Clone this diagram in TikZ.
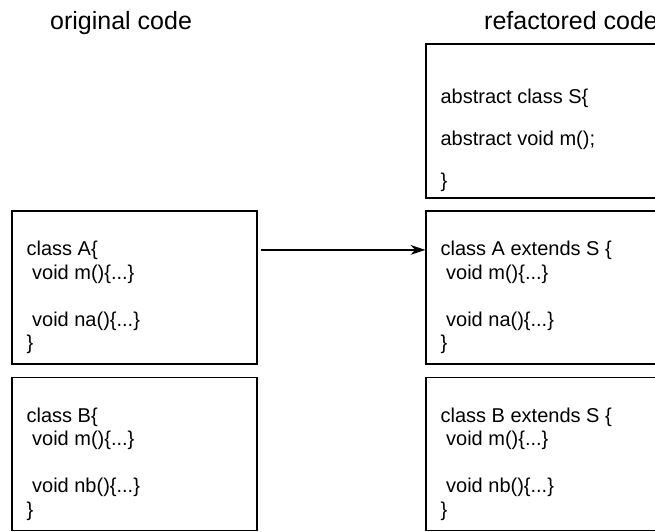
\documentclass[tikz,border=0pt]{standalone}
\usepackage{fontspec}
\setmainfont{Liberation Sans}
\usetikzlibrary{arrows.meta,calc}

\begin{document}
\begin{tikzpicture}[x=1pt,y=-1pt,
    codebox/.style={rectangle,draw,line width=1.2pt,minimum width=245pt,minimum height=153pt,inner sep=0pt},
    codetext/.style={anchor=north west,inner sep=0pt,align=left,font=\fontsize{20}{23.5}\selectfont},
    heading/.style={anchor=base west,inner sep=0pt,font=\fontsize{25}{30}\selectfont}]
    \useasboundingbox (0,0) rectangle (655,531);
    \clip (0,0) rectangle (655,531);
    \node[heading] (origtitle) at (50,29) {original code};
    \node[heading] (reftitle) at (484,29) {refactored code};
    % original classes
    \node[codebox] (boxA) at (134.5,287.5) {};
    \node[codebox] (boxB) at (134.5,454) {};
    % refactored classes
    \node[codebox,minimum height=154pt] (boxS) at (548.5,121) {};
    \node[codebox] (boxAr) at (548.5,287.5) {};
    \node[codebox] (boxBr) at (548.5,454) {};
    % class bodies
    \node[codetext] (textA) at ($(boxA.north west)+(15,30.5)$) {class A\{\\\ void m()\{...\}\\[23.5pt]\ void na()\{...\}\\\}};
    \node[codetext] (textB) at ($(boxB.north west)+(15,30.5)$) {class B\{\\\ void m()\{...\}\\[23.5pt]\ void nb()\{...\}\\\}};
    \node[codetext] (textS) at ($(boxS.north west)+(15,45)$) {abstract class S\{\\[18.5pt]abstract void m();\\[18.5pt]\}};
    \node[codetext] (textAr) at ($(boxAr.north west)+(15,30.5)$) {class A extends S \{\\\ void m()\{...\}\\[23.5pt]\ void na()\{...\}\\\}};
    \node[codetext] (textBr) at ($(boxBr.north west)+(15,30.5)$) {class B extends S \{\\\ void m()\{...\}\\[23.5pt]\ void nb()\{...\}\\\}};
    \coordinate (arrowstart) at ($(boxA.north east)+(3,39.5)$);
    \draw[line width=1.2pt,-{Stealth[length=15pt,width=10pt]}] (arrowstart) -- (arrowstart -| boxAr.west);
\end{tikzpicture}
\end{document}
